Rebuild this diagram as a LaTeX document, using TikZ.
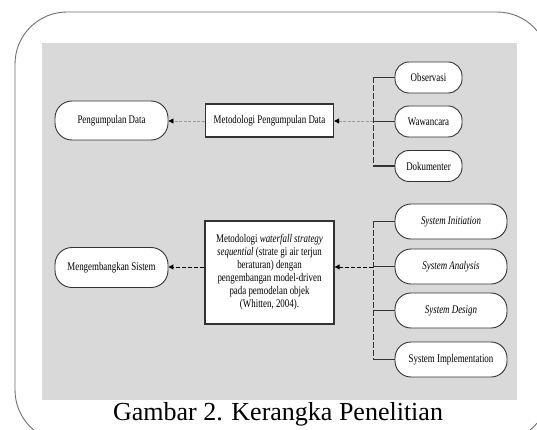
\documentclass[tikz,border=0pt]{standalone}
\usepackage{fontspec}
\setmainfont{Liberation Serif}
\newfontfamily\narrowserif{Liberation Serif}[FakeStretch=0.76]
\usetikzlibrary{arrows.meta}
\definecolor{panelgray}{HTML}{D9D9D9}
\definecolor{framegray}{HTML}{6E6E6E}
\definecolor{inkgray}{HTML}{333333}
\definecolor{faintline}{HTML}{9A9A9A}
\begin{document}
\begin{tikzpicture}[x=1pt,y=-1pt,
  every node/.style={font=\narrowserif\fontsize{11.7}{13}\selectfont, inner sep=0pt},
  pill/.style={draw=inkgray, line width=0.9pt, fill=white, rounded corners=14pt,
    minimum height=34pt, align=center},
  leftpill/.style={pill, minimum width=113pt, minimum height=39pt, rounded corners=17pt},
  datapill/.style={pill, minimum width=67pt, minimum height=31pt},
  syspill/.style={pill, minimum width=112pt, minimum height=35pt, rounded corners=16pt},
  methodbox/.style={draw=inkgray, line width=1.3pt, fill=white, align=center},
  stub/.style={draw=inkgray, line width=1.1pt},
  bracket/.style={draw=inkgray, line width=0.9pt, dash pattern=on 6pt off 2pt},
  faintarrow/.style={draw=faintline, line width=0.8pt, dash pattern=on 3pt off 1.5pt,
    -{Triangle[length=5pt,width=5pt,color=black]}},
  darkarrow/.style={draw=black, line width=1pt, dash pattern=on 4pt off 2pt,
    -{Triangle[length=5pt,width=5pt]}}
]
\useasboundingbox (0,0) rectangle (537,430);

% outer frame and grey panel
\draw[framegray, line width=0.9pt, rounded corners=52pt] (15,12) rectangle (549,442);
\fill[panelgray] (42,43) rectangle (517,400);

% upper row: data collection
\node[leftpill] (pd) at (111.5,120.5) {Pengumpulan Data};
\node[methodbox, minimum width=128pt, minimum height=33pt] (mpd) at (269.5,120.5)
  {Metodologi Pengumpulan Data};
\node[datapill] (obs) at (428.5,77.5) {Observasi};
\node[datapill] (waw) at (428.5,121.5) {Wawancara};
\node[datapill] (dok) at (428.5,166) {Dokumenter};

\coordinate (bu) at (373,121);
\draw[bracket] (obs.west -| bu) -- (dok.west -| bu);
\foreach \n in {obs,waw,dok} \draw[stub] (\n.west -| bu) -- (\n.west);
\draw[faintarrow] (bu) -- (bu -| mpd.east);
\draw[faintarrow] (mpd.west |- bu) -- (pd.east |- bu);

% lower row: system development
\node[leftpill, minimum height=40pt] (ms) at (111.5,267.5) {Mengembangkan Sistem};
\node[methodbox, minimum width=129pt, minimum height=103pt] (wf) at (269.5,272.5)
  {Metodologi \textit{waterfall strategy}\\
   \textit{sequential} (strate gi air terjun\\
   beraturan) dengan\\
   pengembangan model-driven\\
   pada pemodelan objek\\
   (Whitten, 2004).};
\node[syspill] (si) at (451,221.5) {\textit{System Initiation}};
\node[syspill] (sa) at (451,266.5) {\textit{System Analysis}};
\node[syspill] (sd) at (451,310.5) {\textit{System Design}};
\node[syspill] (simp) at (451,359.5) {System Implementation};

\coordinate (bl) at (373,267);
\draw[bracket] (si.west -| bl) -- (simp.west -| bl);
\foreach \n in {si,sa,sd,simp} \draw[stub] (\n.west -| bl) -- (\n.west);
\draw[darkarrow] (bl) -- (bl -| wf.east);
\draw[darkarrow] (wf.west |- bl) -- (ms.east |- bl);

% caption
\node[font=\fontsize{26}{30}\selectfont, anchor=base] (cap) at (278,420)
  {Gambar 2. Kerangka Penelitian};
\end{tikzpicture}
\end{document}
